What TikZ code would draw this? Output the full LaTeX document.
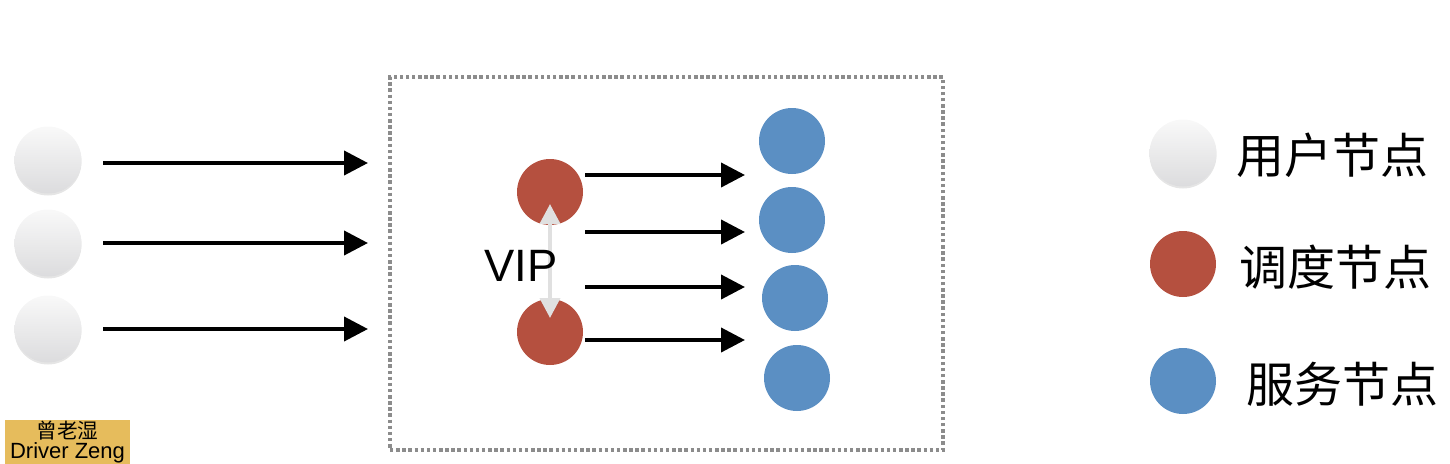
\documentclass[tikz,border=0pt]{standalone}
\usepackage{fontspec}
\setmainfont{Liberation Sans}
\newfontfamily\cjk{Noto Sans CJK SC}
\usetikzlibrary{arrows.meta,shadows,calc}
\definecolor{schred}{HTML}{B5503F}
\definecolor{srvblue}{HTML}{5B8FC3}
\definecolor{usrgray}{HTML}{E6E6E8}
\definecolor{goldbg}{HTML}{E6BC5C}
\tikzset{
  usr/.style={circle,minimum size=67pt*0.75,inner sep=0pt,top color=white!95!gray,bottom color=usrgray!90!gray,
    drop shadow={shadow xshift=0pt,shadow yshift=-1.5pt,fill=black,opacity=0.10}},
  sch/.style={circle,minimum size=66pt*0.75,inner sep=0pt,fill=schred},
  srv/.style={circle,minimum size=66pt*0.75,inner sep=0pt,fill=srvblue},
  flow/.style={line width=3pt,-{Triangle[length=18pt,width=18pt]}},
  vipline/.style={line width=3pt,draw=black!12,{Triangle[length=15pt,width=15pt]}-{Triangle[length=15pt,width=15pt]}},
  legtext/.style={anchor=west,font=\cjk\fontsize{36}{40}\selectfont,inner sep=0pt},
}
\begin{document}
\begin{tikzpicture}[x=0.75pt,y=-0.75pt]
\useasboundingbox (0,0) rectangle (1450,464);
% dotted frame
\node[draw=black!45,dotted,line width=2.6pt,minimum width=553*0.75pt,minimum height=373*0.75pt,inner sep=0pt] (frame) at (666.5,263.5) {};
% user nodes
\node[usr] (u1) at (48,160) {};
\node[usr] (u2) at (48,243) {};
\node[usr] (u3) at (48,329) {};
\coordinate (e1) at (368,163);
\coordinate (e2) at (368,243);
\coordinate (e3) at (368,329);
\draw[flow] (103,163) -- (e1);
\draw[flow] (103,243) -- (e2);
\draw[flow] (103,329) -- (e3);
% scheduler nodes
\node[sch] (s1) at (550,192) {};
\node[sch] (s2) at (550,332) {};
\draw[vipline] ($(s1.center)+(0,12)$) -- ($(s2.center)+(0,-14)$);
\node[font=\fontsize{34}{38}\selectfont,inner sep=0pt] (vip) at (521,266) {VIP};
% service nodes
\node[srv] (b1) at (792,141) {};
\node[srv] (b2) at (792,220) {};
\node[srv] (b3) at (795,298) {};
\node[srv] (b4) at (797,378) {};
\draw[flow] (585,175) -- (745,175);
\draw[flow] (585,232) -- (745,232);
\draw[flow] (585,287) -- (745,287);
\draw[flow] (585,340) -- (745,340);
% legend
\node[usr] (l1) at (1183,153) {};
\node[sch] (l2) at (1183,264) {};
\node[srv] (l3) at (1183,381) {};
\node[legtext] (t1) at (1236,155) {用户节点};
\node[legtext] (t2) at (1239,267) {调度节点};
\node[legtext] (t3) at (1246,384) {服务节点};
% watermark
\node[fill=goldbg,minimum width=125*0.75pt,minimum height=44*0.75pt,inner sep=0pt] (wm) at (67.5,442) {};
\node[font=\cjk\fontsize{15.5}{16}\selectfont,inner sep=0pt] (wm1) at (67.5,431) {曾老湿};
\node[font=\fontsize{16.5}{17}\selectfont,inner sep=0pt] (wm2) at (67.5,453) {Driver Zeng};
\end{tikzpicture}
\end{document}
